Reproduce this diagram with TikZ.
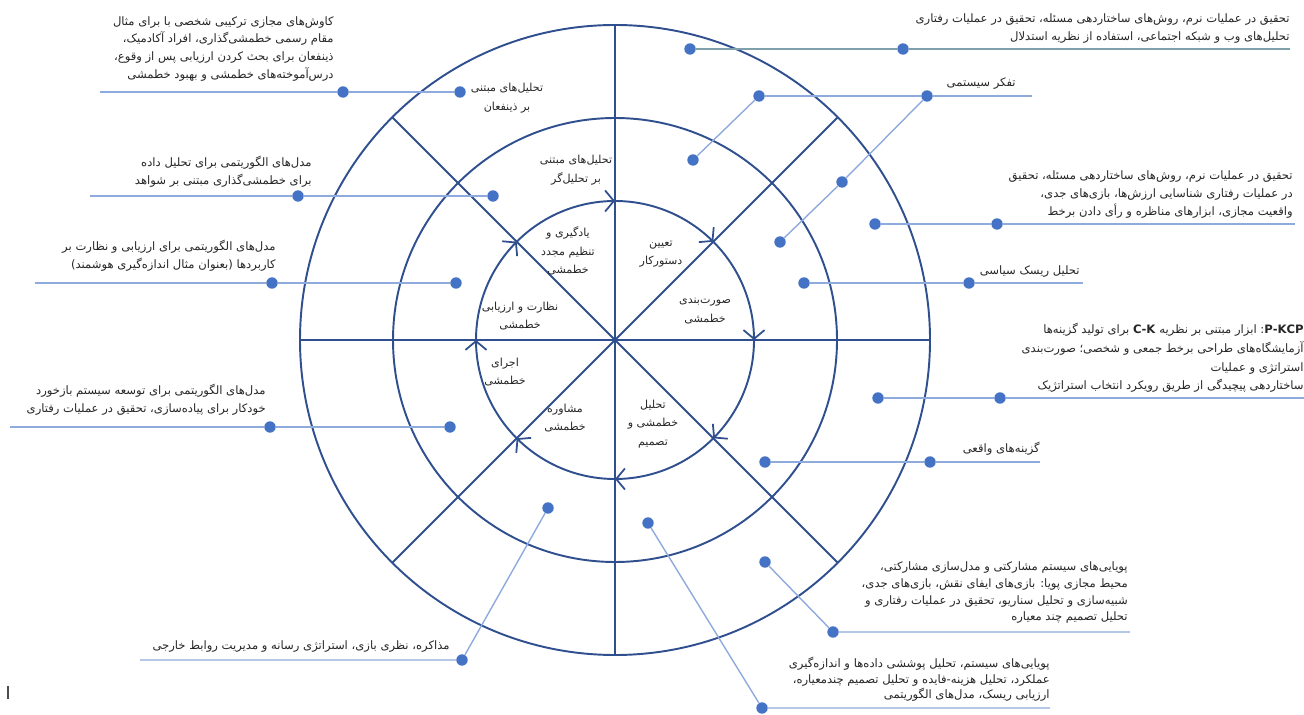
\documentclass[tikz,border=0pt]{standalone}
\usepackage{fontspec}
\newfontfamily\farsi[Script=Arabic]{DejaVu Sans}
\TeXXeTstate=1
\newcommand{\rl}[1]{\beginR #1\endR}
\newcommand{\lr}[1]{\beginL #1\endL{}}
\usetikzlibrary{arrows.meta,decorations.markings,calc}
\definecolor{ringblue}{HTML}{2F4F8F}
\definecolor{leadblue}{HTML}{8FAADC}
\definecolor{leadgrey}{HTML}{7F9FAA}
\definecolor{dotblue}{HTML}{4472C4}

\begin{document}
\begin{tikzpicture}[x={(0.02cm,0)}, y={(0,-0.02cm)},
    ring/.style={draw=ringblue, line width=1.1pt},
    lead/.style={draw=leadblue, line width=0.8pt},
    dot/.style={circle, fill=dotblue, inner sep=0pt, minimum size=6.5pt},
    note/.style={font=\farsi\fontsize{6.6}{10.2}\selectfont, align=right,
                 inner sep=0pt, anchor=south east, text=black!85},
    stage/.style={font=\farsi\fontsize{6.3}{10.5}\selectfont, align=center,
                  inner sep=0pt, text=black!85},
    turn/.style={postaction={decorate}, decoration={markings,
        mark=between positions 0 and 0.95 step 0.125 with
        {\arrow{Straight Barb[length=5pt,width=12pt,line width=1pt]}}}}]
\useasboundingbox (0,0) rectangle (1304,715);

% rings and spokes
\coordinate (c) at (615,340);
\draw[ring] (c) circle [radius=315];
\draw[ring] (c) circle [radius=222];
\draw[ring, turn] (c) circle [radius=139];
\foreach \a in {0,45,90,135}
  \draw[ring] ($(c)+(\a:315)$) -- ($(c)+(\a+180:315)$);

% stages
\node[stage] (agenda)  at (661,254) {\rl{تعیین}\\\rl{دستورکار}};
\node[stage] (learn)   at (568,251) {\rl{یادگیری و}\\\rl{تنظیم مجدد}\\\rl{خطمشی}};
\node[stage] (monitor) at (520,316) {\rl{نظارت و ارزیابی}\\\rl{خطمشی}};
\node[stage] (execute) at (505,372) {\rl{اجرای}\\\rl{خطمشی}};
\node[stage] (advice)  at (565,418) {\rl{مشاوره}\\\rl{خطمشی}};
\node[stage] (analyse) at (653,424) {\rl{تحلیل}\\\rl{خطمشی و}\\\rl{تصمیم}};
\node[stage] (form)    at (705,311) {\rl{صورت‌بندی}\\\rl{خطمشی}};
\node[stage] (analyst) at (576,170) {\rl{تحلیل‌های مبتنی}\\\rl{بر تحلیل‌گر}};
\node[stage] (stake)   at (507,98)  {\rl{تحلیل‌های مبتنی}\\\rl{بر ذینفعان}};

% left notes
\node[note] (n1) at (334,82) {\rl{کاوش‌های مجازی ترکیبی شخصی با برای مثال}\\
  \rl{مقام رسمی خطمشی‌گذاری، افراد آکادمیک،}\\
  \rl{ذینفعان برای بحث کردن ارزیابی پس از وقوع،}\\
  \rl{درس‌آموخته‌های خطمشی و بهبود خطمشی}};
\coordinate (e1) at (100,92);
\node[dot] (d1a) at (343,92) {};
\node[dot] (d1b) at (460,92) {};
\draw[lead] (e1) -- (d1a) -- (d1b);

\node[note] (n2) at (312,188) {\rl{مدل‌های الگوریتمی برای تحلیل داده}\\
  \rl{برای خطمشی‌گذاری مبتنی بر شواهد}};
\coordinate (e2) at (90,196);
\node[dot] (d2a) at (298,196) {};
\node[dot] (d2b) at (493,196) {};
\draw[lead] (e2) -- (d2a) -- (d2b);

\node[note] (n3) at (276,272) {\rl{مدل‌های الگوریتمی برای ارزیابی و نظارت بر}\\
  \rl{کاربردها (بعنوان مثال اندازه‌گیری هوشمند)}};
\coordinate (e3) at (35,283);
\node[dot] (d3a) at (272,283) {};
\node[dot] (d3b) at (456,283) {};
\draw[lead] (e3) -- (d3a) -- (d3b);

\node[note] (n4) at (266,416) {\rl{مدل‌های الگوریتمی برای توسعه سیستم بازخورد}\\
  \rl{خودکار برای پیاده‌سازی، تحقیق در عملیات رفتاری}};
\coordinate (e4) at (10,427);
\node[dot] (d4a) at (270,427) {};
\node[dot] (d4b) at (450,427) {};
\draw[lead] (e4) -- (d4a) -- (d4b);

\node[note] (n5) at (450,653) {\rl{مذاکره، نظری بازی، استراتژی رسانه و مدیریت روابط خارجی}};
\coordinate (e5) at (140,660);
\node[dot] (d5a) at (462,660) {};
\node[dot] (d5b) at (548,508) {};
\draw[lead] (e5) -- (d5a) -- (d5b);

% right notes
\node[note] (n6) at (1290,44) {\rl{تحقیق در عملیات نرم، روش‌های ساختاردهی مسئله، تحقیق در عملیات رفتاری}\\
  \rl{تحلیل‌های وب و شبکه اجتماعی، استفاده از نظریه استدلال}};
\coordinate (e6) at (1290,49);
\node[dot] (d6a) at (690,49) {};
\node[dot] (d6b) at (903,49) {};
\draw[lead, draw=leadgrey] (d6a) -- (d6b) -- (e6);

\node[note] (n7) at (1016,90) {\rl{تفکر سیستمی}};
\coordinate (e7) at (1032,96);
\node[dot] (d7a) at (759,96) {};
\node[dot] (d7b) at (927,96) {};
\node[dot] (d7c) at (693,160) {};
\node[dot] (d7d) at (842,182) {};
\node[dot] (d7e) at (780,242) {};
\draw[lead] (d7a) -- (d7b) -- (e7);
\draw[lead] (d7c) -- (d7a);
\draw[lead] (d7e) -- (d7d) -- (d7b);

\node[note] (n8) at (1293,219) {\rl{تحقیق در عملیات نرم، روش‌های ساختاردهی مسئله، تحقیق}\\
  \rl{در عملیات رفتاری شناسایی ارزش‌ها، بازی‌های جدی،}\\
  \rl{واقعیت مجازی، ابزارهای مناظره و رأی دادن برخط}};
\coordinate (e8) at (1295,224);
\node[dot] (d8a) at (875,224) {};
\node[dot] (d8b) at (997,224) {};
\draw[lead] (d8a) -- (d8b) -- (e8);

\node[note] (n9) at (1080,278) {\rl{تحلیل ریسک سیاسی}};
\coordinate (e9) at (1083,283);
\node[dot] (d9a) at (804,283) {};
\node[dot] (d9b) at (969,283) {};
\draw[lead] (d9a) -- (d9b) -- (e9);

\node[note, font=\farsi\fontsize{6.6}{10.6}\selectfont] (n10) at (1304,393)
  {\rl{\lr{\textbf{P-KCP}}: ابزار مبتنی بر نظریه \lr{\textbf{C-K}} برای تولید گزینه‌ها}\\
  \rl{آزمایشگاه‌های طراحی برخط جمعی و شخصی؛ صورت‌بندی}\\
  \rl{استراتژی و عملیات}\\
  \rl{ساختاردهی پیچیدگی از طریق رویکرد انتخاب استراتژیک}};
\coordinate (e10) at (1304,398);
\node[dot] (d10a) at (878,398) {};
\node[dot] (d10b) at (1000,398) {};
\draw[lead] (d10a) -- (d10b) -- (e10);

\node[note] (n11) at (1040,456) {\rl{گزینه‌های واقعی}};
\coordinate (e11) at (1040,462);
\node[dot] (d11a) at (765,462) {};
\node[dot] (d11b) at (930,462) {};
\draw[lead] (d11a) -- (d11b) -- (e11);

\node[note, font=\farsi\fontsize{6.6}{9.5}\selectfont] (n12) at (1128,624)
  {\rl{پویایی‌های سیستم مشارکتی و مدل‌سازی مشارکتی،}\\
  \rl{محیط مجازی پویا: بازی‌های ایفای نقش، بازی‌های جدی،}\\
  \rl{شبیه‌سازی و تحلیل سناریو، تحقیق در عملیات رفتاری و}\\
  \rl{تحلیل تصمیم چند معیاره}};
\coordinate (e12) at (1130,632);
\node[dot] (d12a) at (765,562) {};
\node[dot] (d12b) at (833,632) {};
\draw[lead] (d12a) -- (d12b) -- (e12);

\node[note, font=\farsi\fontsize{6.6}{8.8}\selectfont] (n13) at (1050,702)
  {\rl{پویایی‌های سیستم، تحلیل پوششی داده‌ها و اندازه‌گیری}\\
  \rl{عملکرد، تحلیل هزینه-فایده و تحلیل تصمیم چندمعیاره،}\\
  \rl{ارزیابی ریسک، مدل‌های الگوریتمی}};
\coordinate (e13) at (1050,708);
\node[dot] (d13a) at (648,523) {};
\node[dot] (d13b) at (762,708) {};
\draw[lead] (d13a) -- (d13b) -- (e13);

\draw[black!70, line width=0.6pt] (8,686) -- (8,699);
\end{tikzpicture}
\end{document}
